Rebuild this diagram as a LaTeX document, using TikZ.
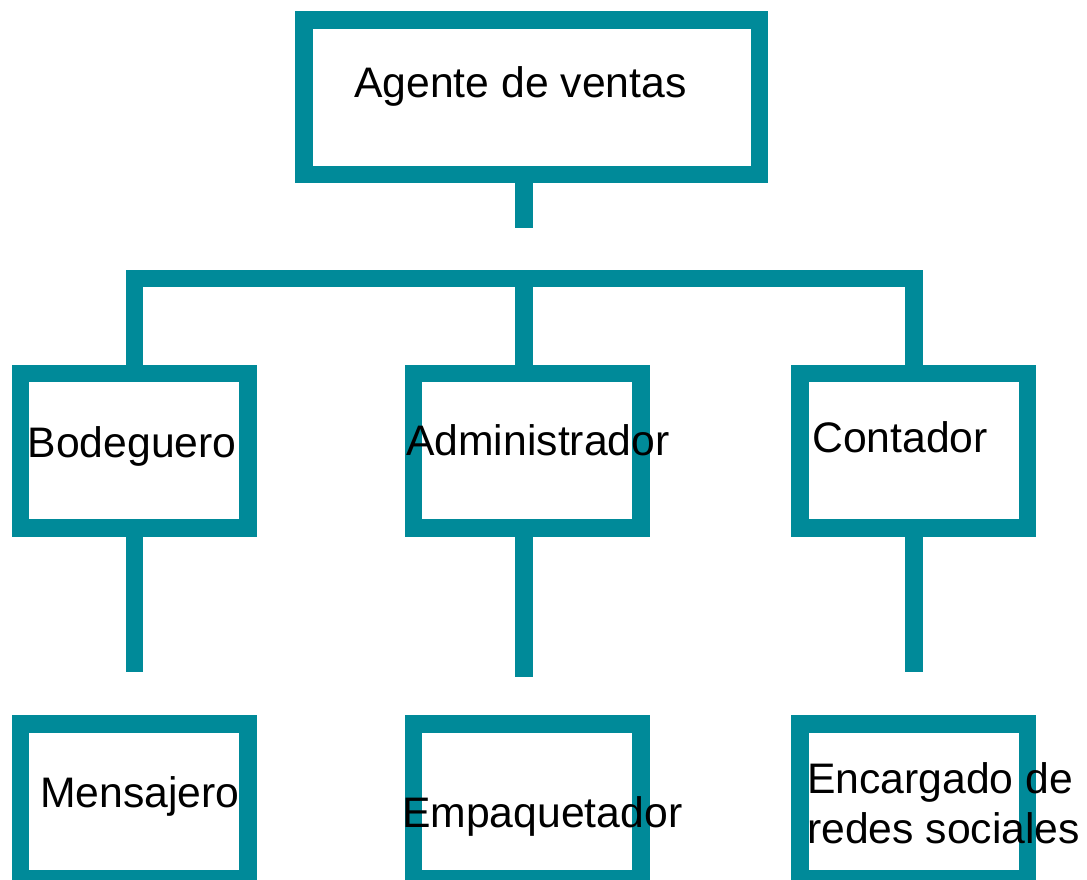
\documentclass[tikz,border=0pt]{standalone}
\usepackage{fontspec}
\setmainfont{Liberation Sans}
\usetikzlibrary{positioning,calc}
\definecolor{orgteal}{RGB}{0,138,153}
\begin{document}
\begin{tikzpicture}[x=1pt,y=-1pt,
		box/.style={draw=orgteal, line width=17.5pt, minimum width=227.5pt, minimum height=154.5pt, inner sep=0pt},
		lbl/.style={inner sep=0pt, anchor=base west, font=\fontsize{42.7}{50}\selectfont, align=left},
		link/.style={draw=orgteal, line width=17.5pt, line cap=butt, line join=miter}]
		\useasboundingbox (0,0) rectangle (1087,879);
		\node [box, minimum width=455.5pt] (agente) at (531.5,97) {};
		\node [box] (bod) at (134.3,450.7) {};
		\node [box] (adm) at (527,450.5) {};
		\node [box] (con) at (913.8,450.5) {};
		\node [box] (men) at (134.3,801.2) {};
		\node [box] (emp) at (527,801.2) {};
		\node [box] (enc) at (913.8,801.2) {};
		\coordinate (bus) at (524,278.5);
		\coordinate (agente-end) at (524,228);
		\coordinate (bod-end) at (134.3,672);
		\coordinate (adm-end) at (524,677);
		\coordinate (con-end) at (913.8,672);
		\draw [link] (agente.south -| bus) -- (agente-end);
		\draw [link] (bod.north) -- (bod.north |- bus) -- (con.north |- bus) -- (con.north);
		\draw [link] (bus) -- (bus |- adm.north);
		\draw [link] (bod.south) -- (bod-end);
		\draw [link] (adm.south -| bus) -- (adm-end);
		\draw [link] (con.south) -- (con-end);
		\node [lbl] (t-agente) at (354,97) {Agente de ventas};
		\node [lbl] (t-bod) at (27.5,457) {Bodeguero};
		\node [lbl] (t-adm) at (406,455) {Administrador};
		\node [lbl] (t-con) at (812,452) {Contador};
		\node [lbl] (t-men) at (40,807) {Mensajero};
		\node [lbl] (t-emp) at (402,827) {Empaquetador};
		\node [lbl] (t-enc) at (807,843) {Encargado de\\redes sociales};
\end{tikzpicture}
\end{document}
